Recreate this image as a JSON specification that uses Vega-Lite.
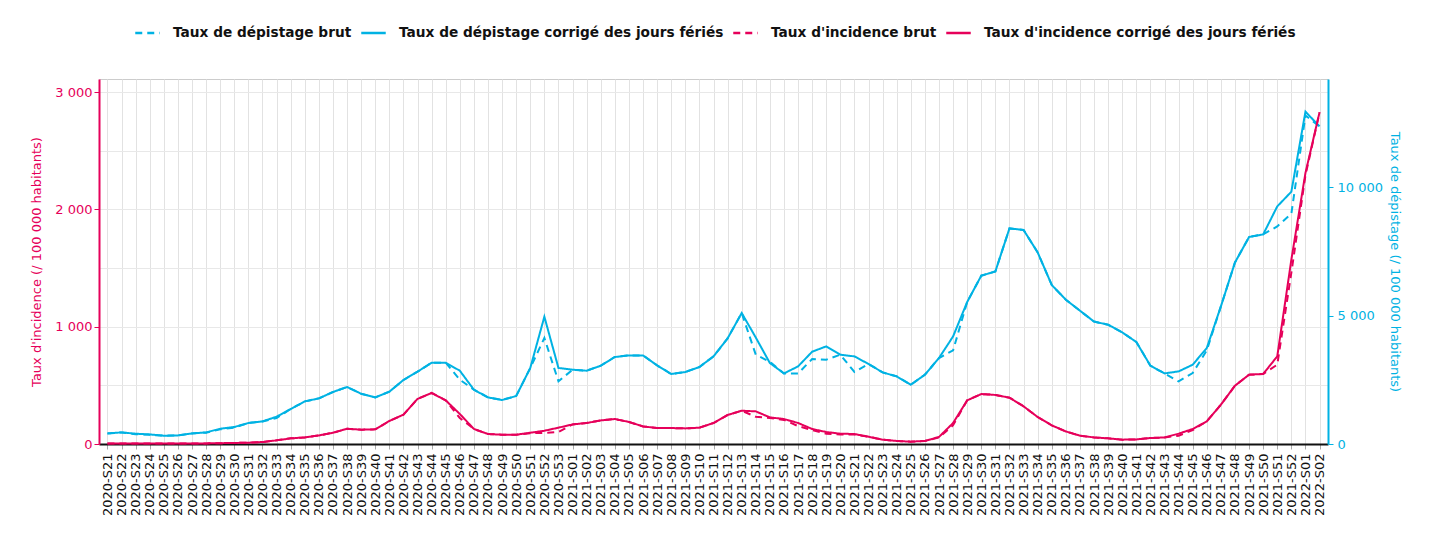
{
  "$schema": "https://vega.github.io/schema/vega-lite/v6.json",
  "width": 1229,
  "height": 365,
  "autosize": {"type": "none"},
  "padding": {"left": 99, "top": 79, "right": 101, "bottom": 91},
  "config": {
    "font": "DejaVu Sans",
    "view": {"stroke": "#cccccc"},
    "axis": {"labelFont": "DejaVu Sans", "titleFont": "DejaVu Sans", "labelFontSize": 13, "titleFontSize": 13, "titleFontWeight": "normal"},
    "legend": {"labelFont": "DejaVu Sans", "labelFontSize": 13.7, "labelFontWeight": "bold", "labelColor": "#111111", "labelLimit": 400}
  },
  "data": {"values": [
    {"s":"2020-S21","dep_brut":413,"dep_corr":413,"inc_brut":5,"inc_corr":5},
    {"s":"2020-S22","dep_brut":452,"dep_corr":452,"inc_brut":5,"inc_corr":5},
    {"s":"2020-S23","dep_brut":380,"dep_corr":401,"inc_brut":4,"inc_corr":4},
    {"s":"2020-S24","dep_brut":360,"dep_corr":374,"inc_brut":4,"inc_corr":4},
    {"s":"2020-S25","dep_brut":323,"dep_corr":323,"inc_brut":4,"inc_corr":4},
    {"s":"2020-S26","dep_brut":335,"dep_corr":335,"inc_brut":4,"inc_corr":4},
    {"s":"2020-S27","dep_brut":413,"dep_corr":413,"inc_brut":5,"inc_corr":5},
    {"s":"2020-S28","dep_brut":440,"dep_corr":452,"inc_brut":5,"inc_corr":5},
    {"s":"2020-S29","dep_brut":570,"dep_corr":596,"inc_brut":7,"inc_corr":7},
    {"s":"2020-S30","dep_brut":640,"dep_corr":662,"inc_brut":9,"inc_corr":9},
    {"s":"2020-S31","dep_brut":818,"dep_corr":818,"inc_brut":11,"inc_corr":11},
    {"s":"2020-S32","dep_brut":881,"dep_corr":881,"inc_brut":17,"inc_corr":17},
    {"s":"2020-S33","dep_brut":1010,"dep_corr":1064,"inc_brut":31,"inc_corr":31},
    {"s":"2020-S34","dep_brut":1364,"dep_corr":1364,"inc_brut":48,"inc_corr":48},
    {"s":"2020-S35","dep_brut":1660,"dep_corr":1660,"inc_brut":56,"inc_corr":56},
    {"s":"2020-S36","dep_brut":1777,"dep_corr":1777,"inc_brut":73,"inc_corr":73},
    {"s":"2020-S37","dep_brut":2026,"dep_corr":2026,"inc_brut":96,"inc_corr":96},
    {"s":"2020-S38","dep_brut":2221,"dep_corr":2221,"inc_brut":130,"inc_corr":130},
    {"s":"2020-S39","dep_brut":1960,"dep_corr":1960,"inc_brut":122,"inc_corr":122},
    {"s":"2020-S40","dep_brut":1816,"dep_corr":1816,"inc_brut":125,"inc_corr":125},
    {"s":"2020-S41","dep_brut":2038,"dep_corr":2038,"inc_brut":196,"inc_corr":196},
    {"s":"2020-S42","dep_brut":2494,"dep_corr":2494,"inc_brut":250,"inc_corr":250},
    {"s":"2020-S43","dep_brut":2818,"dep_corr":2818,"inc_brut":384,"inc_corr":384},
    {"s":"2020-S44","dep_brut":3168,"dep_corr":3168,"inc_brut":435,"inc_corr":435},
    {"s":"2020-S45","dep_brut":3168,"dep_corr":3168,"inc_brut":372,"inc_corr":372},
    {"s":"2020-S46","dep_brut":2506,"dep_corr":2856,"inc_brut":222,"inc_corr":256},
    {"s":"2020-S47","dep_brut":2116,"dep_corr":2116,"inc_brut":128,"inc_corr":128},
    {"s":"2020-S48","dep_brut":1816,"dep_corr":1816,"inc_brut":85,"inc_corr":85},
    {"s":"2020-S49","dep_brut":1714,"dep_corr":1714,"inc_brut":79,"inc_corr":79},
    {"s":"2020-S50","dep_brut":1870,"dep_corr":1870,"inc_brut":79,"inc_corr":79},
    {"s":"2020-S51","dep_brut":2962,"dep_corr":2962,"inc_brut":92,"inc_corr":96},
    {"s":"2020-S52","dep_brut":4131,"dep_corr":4961,"inc_brut":94,"inc_corr":113},
    {"s":"2020-S53","dep_brut":2440,"dep_corr":2962,"inc_brut":102,"inc_corr":139},
    {"s":"2021-S01","dep_brut":2896,"dep_corr":2896,"inc_brut":167,"inc_corr":167},
    {"s":"2021-S02","dep_brut":2856,"dep_corr":2856,"inc_brut":179,"inc_corr":179},
    {"s":"2021-S03","dep_brut":3051,"dep_corr":3051,"inc_brut":201,"inc_corr":201},
    {"s":"2021-S04","dep_brut":3390,"dep_corr":3390,"inc_brut":213,"inc_corr":213},
    {"s":"2021-S05","dep_brut":3453,"dep_corr":3453,"inc_brut":188,"inc_corr":188},
    {"s":"2021-S06","dep_brut":3453,"dep_corr":3453,"inc_brut":150,"inc_corr":150},
    {"s":"2021-S07","dep_brut":3063,"dep_corr":3063,"inc_brut":136,"inc_corr":136},
    {"s":"2021-S08","dep_brut":2728,"dep_corr":2728,"inc_brut":136,"inc_corr":136},
    {"s":"2021-S09","dep_brut":2806,"dep_corr":2806,"inc_brut":133,"inc_corr":133},
    {"s":"2021-S10","dep_brut":3000,"dep_corr":3000,"inc_brut":139,"inc_corr":139},
    {"s":"2021-S11","dep_brut":3414,"dep_corr":3414,"inc_brut":179,"inc_corr":179},
    {"s":"2021-S12","dep_brut":4115,"dep_corr":4115,"inc_brut":247,"inc_corr":247},
    {"s":"2021-S13","dep_brut":5105,"dep_corr":5105,"inc_brut":284,"inc_corr":284},
    {"s":"2021-S14","dep_brut":3480,"dep_corr":4150,"inc_brut":232,"inc_corr":278},
    {"s":"2021-S15","dep_brut":3200,"dep_corr":3156,"inc_brut":222,"inc_corr":227},
    {"s":"2021-S16","dep_brut":2751,"dep_corr":2751,"inc_brut":205,"inc_corr":213},
    {"s":"2021-S17","dep_brut":2751,"dep_corr":3024,"inc_brut":153,"inc_corr":179},
    {"s":"2021-S18","dep_brut":3312,"dep_corr":3597,"inc_brut":118,"inc_corr":128},
    {"s":"2021-S19","dep_brut":3285,"dep_corr":3805,"inc_brut":88,"inc_corr":102},
    {"s":"2021-S20","dep_brut":3480,"dep_corr":3480,"inc_brut":80,"inc_corr":88},
    {"s":"2021-S21","dep_brut":2806,"dep_corr":3414,"inc_brut":80,"inc_corr":85},
    {"s":"2021-S22","dep_brut":3118,"dep_corr":3118,"inc_brut":62,"inc_corr":62},
    {"s":"2021-S23","dep_brut":2790,"dep_corr":2790,"inc_brut":37,"inc_corr":37},
    {"s":"2021-S24","dep_brut":2634,"dep_corr":2634,"inc_brut":26,"inc_corr":26},
    {"s":"2021-S25","dep_brut":2311,"dep_corr":2311,"inc_brut":20,"inc_corr":20},
    {"s":"2021-S26","dep_brut":2701,"dep_corr":2701,"inc_brut":26,"inc_corr":26},
    {"s":"2021-S27","dep_brut":3351,"dep_corr":3351,"inc_brut":55,"inc_corr":60},
    {"s":"2021-S28","dep_brut":3648,"dep_corr":4193,"inc_brut":160,"inc_corr":179},
    {"s":"2021-S29","dep_brut":5534,"dep_corr":5534,"inc_brut":372,"inc_corr":372},
    {"s":"2021-S30","dep_brut":6559,"dep_corr":6559,"inc_brut":426,"inc_corr":426},
    {"s":"2021-S31","dep_brut":6726,"dep_corr":6726,"inc_brut":418,"inc_corr":418},
    {"s":"2021-S32","dep_brut":8402,"dep_corr":8402,"inc_brut":395,"inc_corr":395},
    {"s":"2021-S33","dep_brut":8340,"dep_corr":8340,"inc_brut":321,"inc_corr":321},
    {"s":"2021-S34","dep_brut":7467,"dep_corr":7467,"inc_brut":230,"inc_corr":230},
    {"s":"2021-S35","dep_brut":6196,"dep_corr":6196,"inc_brut":159,"inc_corr":159},
    {"s":"2021-S36","dep_brut":5623,"dep_corr":5623,"inc_brut":107,"inc_corr":107},
    {"s":"2021-S37","dep_brut":5195,"dep_corr":5195,"inc_brut":71,"inc_corr":71},
    {"s":"2021-S38","dep_brut":4770,"dep_corr":4770,"inc_brut":56,"inc_corr":56},
    {"s":"2021-S39","dep_brut":4649,"dep_corr":4649,"inc_brut":48,"inc_corr":48},
    {"s":"2021-S40","dep_brut":4349,"dep_corr":4349,"inc_brut":37,"inc_corr":37},
    {"s":"2021-S41","dep_brut":3975,"dep_corr":3975,"inc_brut":39,"inc_corr":39},
    {"s":"2021-S42","dep_brut":3051,"dep_corr":3051,"inc_brut":51,"inc_corr":51},
    {"s":"2021-S43","dep_brut":2751,"dep_corr":2751,"inc_brut":56,"inc_corr":56},
    {"s":"2021-S44","dep_brut":2440,"dep_corr":2829,"inc_brut":71,"inc_corr":88},
    {"s":"2021-S45","dep_brut":2767,"dep_corr":3090,"inc_brut":118,"inc_corr":128},
    {"s":"2021-S46","dep_brut":3650,"dep_corr":3741,"inc_brut":193,"inc_corr":193},
    {"s":"2021-S47","dep_brut":5362,"dep_corr":5362,"inc_brut":335,"inc_corr":335},
    {"s":"2021-S48","dep_brut":7077,"dep_corr":7077,"inc_brut":497,"inc_corr":497},
    {"s":"2021-S49","dep_brut":8067,"dep_corr":8067,"inc_brut":591,"inc_corr":591},
    {"s":"2021-S50","dep_brut":8168,"dep_corr":8168,"inc_brut":597,"inc_corr":597},
    {"s":"2021-S51","dep_brut":8480,"dep_corr":9259,"inc_brut":676,"inc_corr":747},
    {"s":"2021-S52","dep_brut":8975,"dep_corr":9832,"inc_brut":1460,"inc_corr":1571},
    {"s":"2022-S01","dep_brut":12800,"dep_corr":12950,"inc_brut":2290,"inc_corr":2310},
    {"s":"2022-S02","dep_brut":12377,"dep_corr":12377,"inc_brut":2827,"inc_corr":2827}
  ]},
  "transform": [{"fold": ["dep_brut", "dep_corr", "inc_brut", "inc_corr"], "as": ["serie", "valeur"]}],
  "encoding": {
    "x": {
      "field": "s", "type": "ordinal", "sort": null,
      "scale": {"type": "point", "padding": 0.6},
      "axis": {"title": null, "labelAngle": -90, "labelColor": "#111111", "labelFontSize": 13, "tickColor": "#aaaaaa", "tickSize": 5, "domainColor": "#111111", "domainWidth": 2, "grid": true, "gridColor": "#e2e2e2", "labelPadding": 4}
    },
    "color": {
      "field": "serie", "type": "nominal",
      "scale": {"domain": ["dep_brut", "dep_corr", "inc_brut", "inc_corr"], "range": ["#00b2e3", "#00b2e3", "#e6005a", "#e6005a"]},
      "legend": {
        "title": null, "orient": "none", "direction": "horizontal", "legendX": 35, "legendY": -60,
        "symbolType": "stroke", "symbolSize": 600, "symbolStrokeWidth": 2.5, "columnPadding": 4, "labelOffset": 12,
        "labelExpr": "{'dep_brut': 'Taux de dépistage brut', 'dep_corr': 'Taux de dépistage corrigé des jours fériés', 'inc_brut': \"Taux d'incidence brut\", 'inc_corr': \"Taux d'incidence corrigé des jours fériés\"}[datum.label]"
      }
    },
    "strokeDash": {
      "field": "serie", "type": "nominal",
      "scale": {"domain": ["dep_brut", "dep_corr", "inc_brut", "inc_corr"], "range": [[7, 5], [1, 0], [7, 5], [1, 0]]},
      "legend": {
        "title": null, "orient": "none", "direction": "horizontal", "legendX": 35, "legendY": -60,
        "symbolType": "stroke", "symbolSize": 600, "symbolStrokeWidth": 2.5, "columnPadding": 4, "labelOffset": 12,
        "labelExpr": "{'dep_brut': 'Taux de dépistage brut', 'dep_corr': 'Taux de dépistage corrigé des jours fériés', 'inc_brut': \"Taux d'incidence brut\", 'inc_corr': \"Taux d'incidence corrigé des jours fériés\"}[datum.label]"
      }
    }
  },
  "layer": [
    {
      "transform": [{"filter": "datum.serie == 'dep_brut' || datum.serie == 'dep_corr'"}],
      "mark": {"type": "line", "strokeWidth": 2},
      "encoding": {
        "y": {
          "field": "valeur", "type": "quantitative",
          "scale": {"domain": [0, 14224], "nice": false, "zero": true},
          "axis": {
            "orient": "right", "title": "Taux de dépistage (/ 100 000 habitants)", "values": [0, 5000, 10000],
            "grid": false, "labelColor": "#00b2e3", "titleColor": "#00b2e3", "domainColor": "#00b2e3", "domainWidth": 2,
            "tickColor": "#00b2e3", "labelPadding": 4, "titlePadding": 5, "labelExpr": "replace(format(datum.value, ','), ',', ' ')"
          }
        }
      }
    },
    {
      "transform": [{"filter": "datum.serie == 'inc_brut' || datum.serie == 'inc_corr'"}],
      "mark": {"type": "line", "strokeWidth": 2},
      "encoding": {
        "y": {
          "field": "valeur", "type": "quantitative",
          "scale": {"domain": [0, 3111], "nice": false, "zero": true},
          "axis": {
            "orient": "left", "title": "Taux d'incidence (/ 100 000 habitants)", "values": [0, 500, 1000, 1500, 2000, 2500, 3000],
            "grid": true, "gridColor": "#e8e8e8", "labelColor": "#e6005a", "titleColor": "#e6005a", "domainColor": "#e6005a", "domainWidth": 2,
            "tickColor": "#e6005a", "tickOpacity": {"condition": {"test": "datum.value % 1000 != 0", "value": 0}, "value": 1},
            "titlePadding": 11,
            "labelExpr": "datum.value % 1000 == 0 ? replace(format(datum.value, ','), ',', ' ') : ''"
          }
        }
      }
    }
  ],
  "resolve": {"scale": {"y": "independent"}}
}
